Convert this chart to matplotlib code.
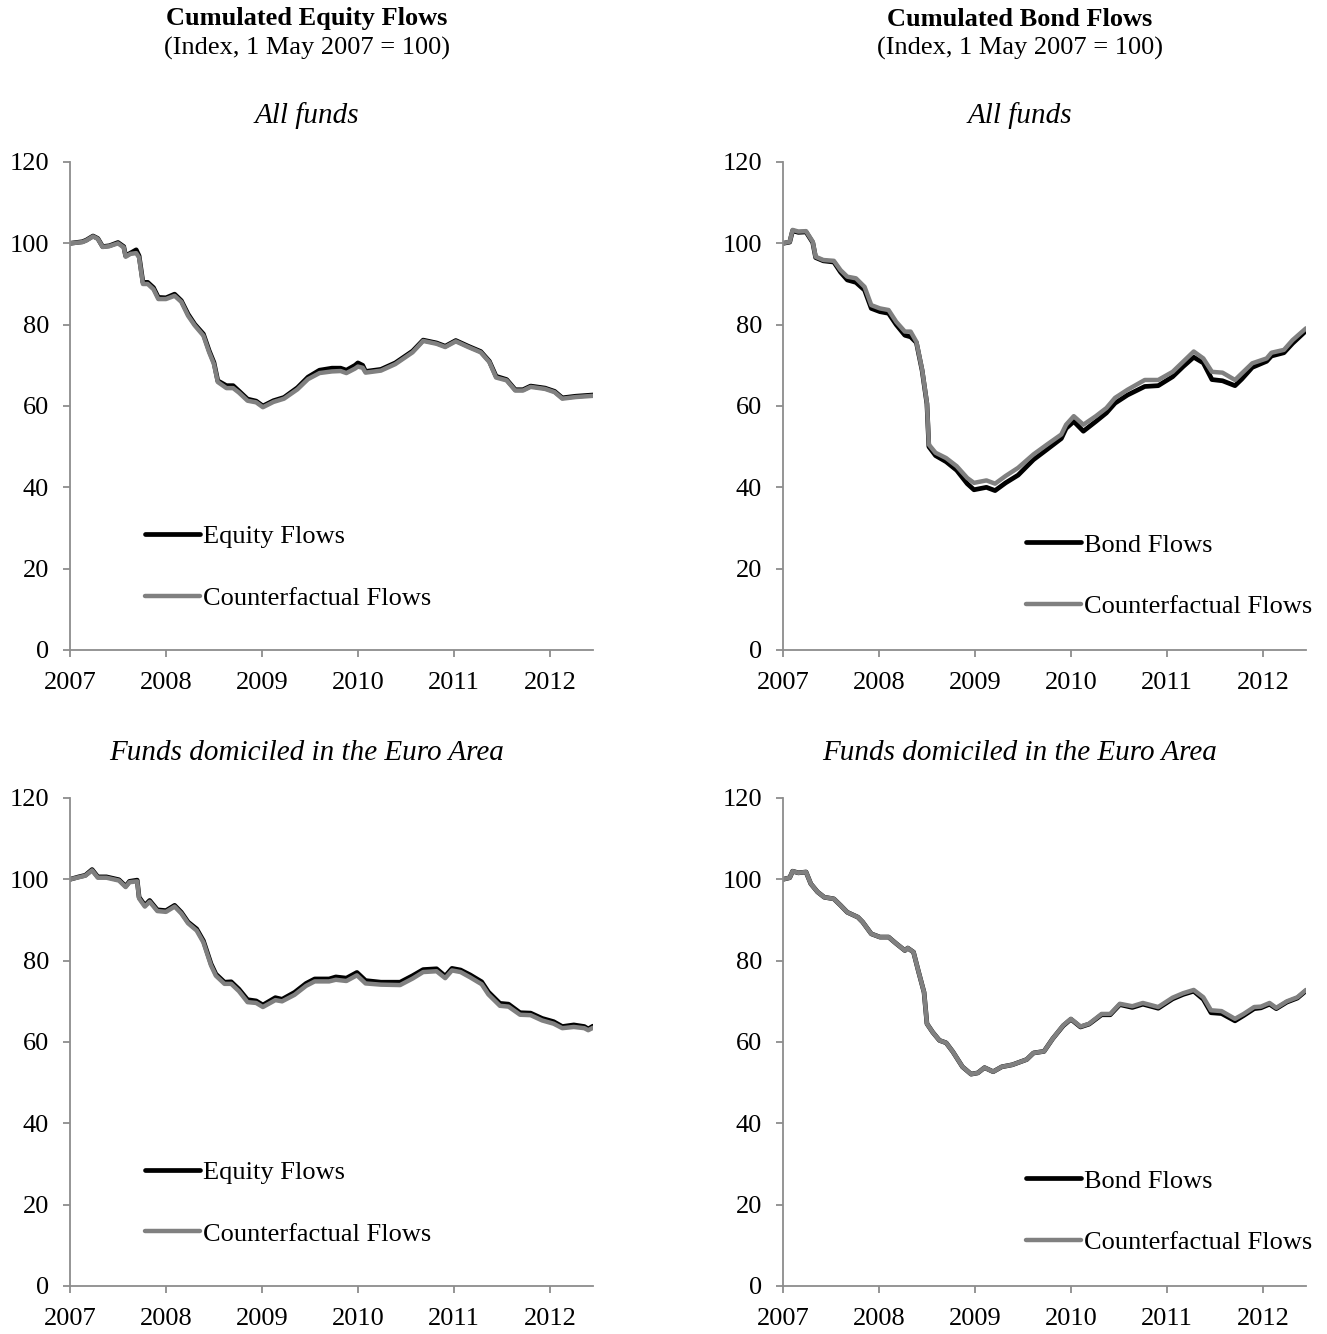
import matplotlib
matplotlib.use("Agg")
import matplotlib.pyplot as plt

plt.rcParams["font.family"] = ["Liberation Serif", "DejaVu Serif"]

# MARK: Data (decimal years, index 1 May 2007 = 100)
eq_all_x = [2007.00, 2007.13, 2007.17, 2007.24, 2007.29, 2007.34, 2007.41, 2007.50, 2007.56, 2007.58,
            2007.63, 2007.69, 2007.72, 2007.76, 2007.81, 2007.87, 2007.92, 2008.00, 2008.09, 2008.16,
            2008.23, 2008.30, 2008.39, 2008.45, 2008.50, 2008.54, 2008.63, 2008.70, 2008.76, 2008.85,
            2008.94, 2009.01, 2009.12, 2009.23, 2009.37, 2009.48, 2009.60, 2009.73, 2009.82, 2009.88,
            2009.97, 2010.00, 2010.05, 2010.08, 2010.24, 2010.39, 2010.57, 2010.68, 2010.82, 2010.91,
            2011.02, 2011.15, 2011.28, 2011.37, 2011.44, 2011.55, 2011.64, 2011.72, 2011.80, 2011.95,
            2012.05, 2012.13, 2012.27, 2012.45]
eq_all = [100.0, 100.4, 100.8, 101.8, 101.2, 99.2, 99.4, 100.2, 99.2, 96.9,
          97.6, 98.4, 96.9, 90.4, 90.4, 89.1, 86.7, 86.6, 87.5, 85.9,
          82.6, 80.1, 77.7, 73.6, 70.7, 66.2, 65.0, 65.0, 63.7, 61.7,
          61.2, 60.0, 61.3, 62.1, 64.5, 67.1, 68.8, 69.3, 69.3, 68.8,
          70.0, 70.6, 70.0, 68.5, 69.0, 70.6, 73.5, 76.2, 75.5, 74.7,
          76.1, 74.7, 73.4, 71.0, 67.3, 66.5, 64.0, 64.0, 64.9, 64.4,
          63.6, 62.0, 62.4, 62.7]
eq_all_cf = [100.0, 100.3, 100.7, 101.7, 101.1, 99.1, 99.3, 100.0, 99.0, 96.7,
             97.4, 97.6, 96.5, 90.0, 90.0, 88.7, 86.3, 86.3, 87.1, 85.6,
             82.2, 79.8, 77.3, 73.2, 70.3, 65.9, 64.4, 64.4, 63.3, 61.3,
             60.9, 59.7, 61.0, 61.8, 64.1, 66.6, 68.1, 68.5, 68.6, 68.1,
             69.2, 69.7, 69.4, 68.2, 68.7, 70.3, 73.2, 76.0, 75.3, 74.5,
             75.9, 74.5, 73.2, 70.8, 67.0, 66.3, 63.8, 63.8, 64.7, 64.2,
             63.4, 61.8, 62.2, 62.5]

bd_all_x = [2007.00, 2007.07, 2007.10, 2007.16, 2007.24, 2007.31, 2007.34, 2007.42, 2007.53, 2007.60,
            2007.67, 2007.76, 2007.85, 2007.92, 2008.01, 2008.10, 2008.18, 2008.27, 2008.33, 2008.39,
            2008.45, 2008.50, 2008.52, 2008.59, 2008.70, 2008.81, 2008.92, 2008.99, 2009.12, 2009.21,
            2009.32, 2009.45, 2009.61, 2009.75, 2009.90, 2009.95, 2010.03, 2010.13, 2010.26, 2010.37,
            2010.46, 2010.59, 2010.77, 2010.91, 2011.06, 2011.17, 2011.28, 2011.38, 2011.47, 2011.58,
            2011.71, 2011.78, 2011.89, 2012.04, 2012.09, 2012.22, 2012.31, 2012.45]
bd_all = [100.0, 100.3, 103.1, 102.7, 102.8, 100.2, 96.5, 95.7, 95.4, 92.9,
          91.0, 90.4, 88.5, 84.0, 83.2, 82.8, 80.0, 77.4, 77.0, 75.6,
          68.7, 60.5, 50.0, 47.8, 46.3, 44.2, 40.9, 39.4, 40.0, 39.2,
          41.1, 43.0, 46.8, 49.3, 52.0, 54.5, 56.2, 53.8, 56.2, 58.3,
          60.7, 62.7, 64.8, 65.0, 67.2, 69.7, 72.0, 70.6, 66.5, 66.2,
          65.0, 66.6, 69.5, 71.0, 72.3, 73.1, 75.4, 78.5]
bd_all_cf = [100.0, 100.4, 103.3, 102.9, 103.0, 100.4, 96.7, 95.9, 95.7, 93.4,
             91.8, 91.4, 89.3, 84.8, 84.0, 83.6, 80.7, 78.3, 78.3, 75.8,
             68.9, 60.7, 50.5, 48.5, 47.2, 45.2, 42.3, 41.1, 41.7, 40.9,
             42.8, 44.8, 48.1, 50.5, 53.0, 55.4, 57.5, 55.4, 57.5, 59.5,
             62.0, 64.0, 66.4, 66.4, 68.4, 70.9, 73.4, 71.7, 68.4, 68.2,
             66.4, 68.0, 70.5, 71.7, 73.1, 73.8, 76.2, 79.1]

eq_ea_x = [2007.00, 2007.09, 2007.16, 2007.23, 2007.29, 2007.38, 2007.51, 2007.58, 2007.62, 2007.70,
           2007.72, 2007.78, 2007.83, 2007.91, 2008.00, 2008.09, 2008.16, 2008.23, 2008.32, 2008.39,
           2008.47, 2008.52, 2008.61, 2008.68, 2008.76, 2008.85, 2008.94, 2009.01, 2009.14, 2009.21,
           2009.34, 2009.46, 2009.55, 2009.70, 2009.77, 2009.88, 2009.99, 2010.08, 2010.24, 2010.44,
           2010.57, 2010.68, 2010.82, 2010.91, 2010.98, 2011.07, 2011.17, 2011.29, 2011.36, 2011.48,
           2011.57, 2011.69, 2011.80, 2011.92, 2012.04, 2012.13, 2012.25, 2012.36, 2012.40, 2012.45]
eq_ea = [100.0, 100.6, 101.0, 102.4, 100.6, 100.6, 99.9, 98.3, 99.5, 99.8,
         95.6, 93.6, 94.8, 92.5, 92.3, 93.6, 91.9, 89.5, 87.8, 84.9,
         79.2, 76.7, 74.7, 74.8, 73.0, 70.4, 70.1, 69.1, 70.9, 70.5,
         72.2, 74.4, 75.5, 75.5, 76.0, 75.7, 77.1, 75.1, 74.7, 74.7,
         76.3, 77.8, 78.0, 76.2, 78.1, 77.7, 76.5, 74.8, 72.3, 69.5,
         69.3, 67.2, 67.1, 65.8, 65.0, 63.8, 64.2, 63.8, 63.2, 63.9]
eq_ea_cf = [100.0, 100.5, 100.9, 102.2, 100.4, 100.4, 99.7, 98.1, 99.3, 99.5,
            95.3, 93.3, 94.5, 92.2, 92.0, 93.3, 91.6, 89.2, 87.4, 84.5,
            78.8, 76.3, 74.3, 74.3, 72.5, 69.8, 69.6, 68.6, 70.3, 70.0,
            71.6, 73.8, 74.9, 74.9, 75.3, 75.0, 76.4, 74.4, 74.1, 74.0,
            75.6, 77.2, 77.4, 75.7, 77.6, 77.2, 75.9, 74.2, 71.7, 68.9,
            68.7, 66.7, 66.6, 65.3, 64.5, 63.4, 63.7, 63.4, 62.9, 63.5]

bd_ea_x = [2007.00, 2007.07, 2007.10, 2007.16, 2007.24, 2007.29, 2007.36, 2007.43, 2007.53, 2007.60,
           2007.67, 2007.78, 2007.83, 2007.92, 2008.01, 2008.10, 2008.18, 2008.27, 2008.30, 2008.36,
           2008.41, 2008.47, 2008.50, 2008.56, 2008.63, 2008.70, 2008.77, 2008.87, 2008.96, 2009.03,
           2009.10, 2009.19, 2009.28, 2009.39, 2009.54, 2009.61, 2009.72, 2009.81, 2009.92, 2010.00,
           2010.10, 2010.19, 2010.32, 2010.41, 2010.51, 2010.64, 2010.75, 2010.91, 2011.06, 2011.17,
           2011.28, 2011.38, 2011.46, 2011.57, 2011.71, 2011.80, 2011.91, 2011.98, 2012.07, 2012.14,
           2012.25, 2012.36, 2012.45]
bd_ea = [100.0, 100.4, 102.0, 101.6, 101.8, 98.9, 96.9, 95.6, 95.2, 93.6,
         91.9, 90.7, 89.5, 86.6, 85.8, 85.8, 84.2, 82.5, 83.1, 82.1,
         77.5, 72.2, 64.5, 62.4, 60.4, 59.8, 57.6, 53.9, 52.1, 52.4,
         53.7, 52.7, 53.9, 54.4, 55.7, 57.3, 57.7, 60.8, 64.0, 65.6,
         63.7, 64.4, 66.7, 66.7, 69.2, 68.5, 69.3, 68.3, 70.6, 71.7,
         72.5, 70.5, 67.2, 67.0, 65.2, 66.5, 68.2, 68.4, 69.3, 68.2,
         69.8, 70.8, 72.6]
bd_ea_cf = [100.0, 100.4, 102.0, 101.6, 101.8, 98.9, 96.9, 95.6, 95.2, 93.6,
            91.9, 90.7, 89.5, 86.6, 85.8, 85.8, 84.2, 82.5, 83.1, 82.1,
            77.5, 72.2, 64.5, 62.4, 60.4, 59.8, 57.6, 53.9, 52.1, 52.4,
            53.7, 52.7, 53.9, 54.4, 55.7, 57.3, 57.7, 60.8, 64.1, 65.7,
            63.8, 64.5, 66.9, 66.9, 69.4, 68.8, 69.6, 68.6, 70.9, 72.0,
            72.8, 71.0, 67.8, 67.6, 65.7, 66.9, 68.6, 68.7, 69.6, 68.4,
            70.0, 71.0, 72.8]

years = [2007, 2008, 2009, 2010, 2011, 2012]
y_ticks = [0, 20, 40, 60, 80, 100, 120]

GREY = "#808080"
AXIS_GREY = "#8c8c8c"
FS = 19


def draw_panel(ax, x, main, cf, main_label, legend_anchor):
    main_line, = ax.plot(x, main, color="black", lw=3.4, solid_capstyle="round")
    cf_line, = ax.plot(x, cf, color=GREY, lw=3.2, solid_capstyle="round")

    ax.set_xlim(2007, 2012.45)
    ax.set_ylim(0, 120)
    ax.set_xticks(years)
    ax.set_xticklabels([str(y) for y in years])
    ax.set_yticks(y_ticks)

    for side in ("top", "right"):
        ax.spines[side].set_visible(False)
    for side in ("left", "bottom"):
        ax.spines[side].set_color(AXIS_GREY)
        ax.spines[side].set_linewidth(1.3)
    ax.tick_params(axis="both", colors=AXIS_GREY, labelcolor="black", labelsize=FS,
                   direction="out", length=5, width=1.3)
    ax.tick_params(axis="y", pad=10)
    ax.tick_params(axis="x", pad=11)

    ax.legend([main_line, cf_line], [main_label, "Counterfactual Flows"],
              loc="center left", bbox_to_anchor=legend_anchor, frameon=False,
              fontsize=FS, handlelength=2.1, handletextpad=0.1, labelspacing=1.45,
              borderpad=0, borderaxespad=0)


fig = plt.figure(figsize=(13.27, 13.34), dpi=100)

W, H = 1327, 1334
ax_w = (593 - 70) / W
ax_h = 488 / H
ax_tl = fig.add_axes([70 / W, 1 - 650 / H, ax_w, ax_h])
ax_tr = fig.add_axes([783 / W, 1 - 650 / H, ax_w, ax_h])
ax_bl = fig.add_axes([70 / W, 1 - 1286 / H, ax_w, ax_h])
ax_br = fig.add_axes([783 / W, 1 - 1286 / H, ax_w, ax_h])

draw_panel(ax_tl, eq_all_x, eq_all, eq_all_cf, "Equity Flows", (0.143, 0.169))
draw_panel(ax_tr, bd_all_x, bd_all, bd_all_cf, "Bond Flows", (0.464, 0.152))
draw_panel(ax_bl, eq_ea_x, eq_ea, eq_ea_cf, "Equity Flows", (0.143, 0.170))
draw_panel(ax_br, bd_ea_x, bd_ea, bd_ea_cf, "Bond Flows", (0.464, 0.152))

# MARK: Titles
left_c, right_c = 307 / W, 1020 / W
fig.text(left_c, 1 - 19 / H, "Cumulated Equity Flows", ha="center", va="center",
         fontsize=FS, fontweight="bold")
fig.text(left_c, 1 - 48 / H, "(Index, 1 May 2007 = 100)", ha="center", va="center", fontsize=FS)
fig.text(right_c, 1 - 19 / H, "Cumulated Bond Flows", ha="center", va="center",
         fontsize=FS, fontweight="bold")
fig.text(right_c, 1 - 48 / H, "(Index, 1 May 2007 = 100)", ha="center", va="center", fontsize=FS)

fig.text(left_c, 1 - 116 / H, "All funds", ha="center", va="center", fontsize=FS + 2, style="italic")
fig.text(right_c, 1 - 116 / H, "All funds", ha="center", va="center", fontsize=FS + 2, style="italic")
fig.text(left_c, 1 - 753 / H, "Funds domiciled in the Euro Area", ha="center", va="center",
         fontsize=FS + 2, style="italic")
fig.text(right_c, 1 - 753 / H, "Funds domiciled in the Euro Area", ha="center", va="center",
         fontsize=FS + 2, style="italic")

fig.savefig("out.png", dpi=100)
